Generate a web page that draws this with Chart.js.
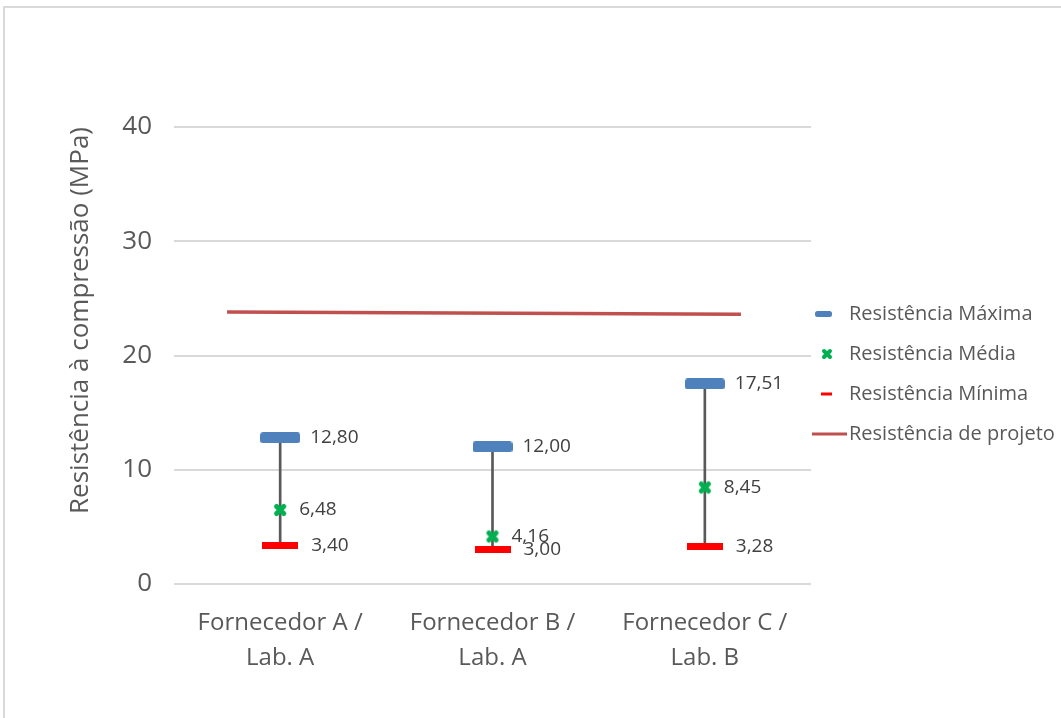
<!DOCTYPE html>
<html>
<head>
<meta charset="utf-8">
<script src="https://cdn.jsdelivr.net/npm/chart.js@4.4.1/dist/chart.umd.min.js"></script>
<style>
  html, body { margin: 0; padding: 0; background: #fff; }
  #wrap { position: relative; width: 1061px; height: 718px; overflow: hidden; }
  #frame { position: absolute; left: 3px; top: 6px; right: -10px; bottom: -10px;
           border-top: 2px solid #d9d9d9; border-left: 2px solid #d9d9d9; }
  canvas { position: absolute; left: 0; top: 0; }
</style>
</head>
<body>
<div id="wrap">
  <div id="frame"></div>
  <canvas id="chart" width="1061" height="718"></canvas>
</div>
<script>
// Categories (supplier / laboratory) and compressive strength results in MPa
const categories = [['Fornecedor A /', 'Lab. A'], ['Fornecedor B /', 'Lab. A'], ['Fornecedor C /', 'Lab. B']];
const maxValues  = [12.80, 12.00, 17.51];
const meanValues = [6.48, 4.16, 8.45];
const minValues  = [3.40, 3.00, 3.28];
// Design strength line (x in category units, 0 = first category)
const designX = [-0.25, 2.17];
const designY = [23.8, 23.6];
const yMin = 0, yMax = 40, yStep = 10;
const seriesNames = ['Resistência Máxima', 'Resistência Média', 'Resistência Mínima', 'Resistência de projeto'];

const FONT = '"Open Sans", "Noto Sans", sans-serif';
const C_MAX = '#4F81BD', C_MEAN = '#00B050', C_MIN = '#FF0000', C_DESIGN = '#C0504D';

function makeIcon(w, h, draw) {
  const c = document.createElement('canvas');
  c.width = w; c.height = h;
  draw(c.getContext('2d'), w, h);
  return c;
}
function roundRect(ctx, x, y, w, h, r) {
  ctx.beginPath();
  ctx.moveTo(x + r, y);
  ctx.arcTo(x + w, y, x + w, y + h, r);
  ctx.arcTo(x + w, y + h, x, y + h, r);
  ctx.arcTo(x, y + h, x, y, r);
  ctx.arcTo(x, y, x + w, y, r);
  ctx.closePath();
}
function drawCross(ctx, cx, cy, s, lw) {
  ctx.strokeStyle = C_MEAN; ctx.lineWidth = lw; ctx.lineCap = 'round';
  ctx.beginPath();
  ctx.moveTo(cx - s, cy - s); ctx.lineTo(cx + s, cy + s);
  ctx.moveTo(cx + s, cy - s); ctx.lineTo(cx - s, cy + s);
  ctx.stroke();
}

// Plot markers
const maxMarker = makeIcon(40, 11, (ctx, w, h) => { ctx.fillStyle = C_MAX; roundRect(ctx, 0, 0, w, h, 3); ctx.fill(); });
const minMarker = makeIcon(36, 7, (ctx, w, h) => { ctx.fillStyle = C_MIN; ctx.fillRect(0, 0, w, h); });
const meanMarker = makeIcon(16, 16, (ctx) => drawCross(ctx, 8, 8, 3.6, 5));

// Legend icons (36 x 16 each)
const legendIcons = [
  makeIcon(36, 16, (ctx) => { ctx.fillStyle = C_MAX; roundRect(ctx, 3, 5, 17, 6, 2.5); ctx.fill(); }),
  makeIcon(36, 16, (ctx) => drawCross(ctx, 15, 8, 3, 4)),
  makeIcon(36, 16, (ctx) => { ctx.fillStyle = C_MIN; ctx.fillRect(9, 6.5, 11, 3); }),
  makeIcon(36, 16, (ctx) => { ctx.fillStyle = C_DESIGN; ctx.fillRect(0, 6.5, 35, 3); })
];

const fmt = v => v.toFixed(2).replace('.', ',');
const atCategory = values => values.map((v, i) => ({ x: i, y: v }));

// Value labels to the right of each marker
const valueLabels = {
  id: 'valueLabels',
  afterDatasetsDraw(chart) {
    const ctx = chart.ctx;
    ctx.save();
    ctx.font = '19px ' + FONT;
    ctx.fillStyle = '#404040';
    ctx.textAlign = 'left';
    ctx.textBaseline = 'middle';
    chart.data.datasets.forEach((ds, di) => {
      if (ds.labelGap === undefined) return;
      const meta = chart.getDatasetMeta(di);
      meta.data.forEach((pt, i) => {
        ctx.fillText(fmt(ds.data[i].y), pt.x + ds.labelGap, pt.y);
      });
    });
    ctx.restore();
  }
};

// Legend at the right of the plot
const sideLegend = {
  id: 'sideLegend',
  afterDraw(chart, args, opts) {
    const ctx = chart.ctx;
    ctx.save();
    ctx.font = '20px ' + FONT;
    ctx.fillStyle = '#595959';
    ctx.textAlign = 'left';
    ctx.textBaseline = 'middle';
    seriesNames.forEach((name, i) => {
      const y = opts.top + i * opts.step;
      ctx.drawImage(legendIcons[i], opts.iconX, y - 8);
      ctx.fillText(name, opts.textX, y);
    });
    ctx.restore();
  }
};

new Chart(document.getElementById('chart'), {
  type: 'bar',
  data: {
    datasets: [
      {
        type: 'bar',
        label: 'range',
        data: minValues.map((v, i) => ({ x: i, y: [v, maxValues[i]] })),
        backgroundColor: '#595959',
        barThickness: 2,
        order: 10
      },
      {
        type: 'line',
        label: seriesNames[0],
        data: atCategory(maxValues),
        showLine: false,
        pointStyle: maxMarker,
        pointRadius: 6, pointHoverRadius: 6,
        labelGap: 30,
        order: 3
      },
      {
        type: 'line',
        label: seriesNames[2],
        data: atCategory(minValues),
        showLine: false,
        pointStyle: minMarker,
        pointRadius: 6, pointHoverRadius: 6,
        labelGap: 31,
        order: 2
      },
      {
        type: 'line',
        label: seriesNames[1],
        data: atCategory(meanValues),
        showLine: false,
        pointStyle: meanMarker,
        pointRadius: 6, pointHoverRadius: 6,
        labelGap: 19,
        order: 1
      },
      {
        type: 'line',
        label: seriesNames[3],
        data: designX.map((x, i) => ({ x, y: designY[i] })),
        borderColor: C_DESIGN,
        borderWidth: 3.5,
        pointRadius: 0,
        order: 5
      }
    ]
  },
  options: {
    responsive: false,
    animation: false,
    events: [],
    devicePixelRatio: 1,
    layout: { padding: { top: 127, right: 250, bottom: 0, left: 0 } },
    plugins: {
      legend: { display: false },
      tooltip: { enabled: false },
      sideLegend: { top: 314, step: 40, iconX: 812, textX: 849 }
    },
    scales: {
      x: {
        type: 'linear',
        offset: false,
        min: -0.5,
        max: categories.length - 0.5,
        grid: { display: false, offset: false },
        border: { display: false },
        afterBuildTicks(s) { s.ticks = categories.map((_, i) => ({ value: i })); },
        ticks: {
          callback: v => categories[v],
          font: { family: FONT, size: 24, lineHeight: 1.45 },
          color: '#595959',
          padding: 14,
          maxRotation: 0,
          autoSkip: false
        },
        afterFit(s) { s.height = 134; }
      },
      y: {
        min: yMin,
        max: yMax,
        ticks: {
          stepSize: yStep,
          font: { family: FONT, size: 26 },
          color: '#595959',
          padding: 22
        },
        grid: { color: '#d9d9d9', lineWidth: 2, drawTicks: false },
        border: { display: false },
        title: {
          display: true,
          text: 'Resistência à compressão (MPa)',
          font: { family: FONT, size: 26 },
          color: '#595959',
          align: 'end',
          padding: { top: 65, bottom: 0 }
        },
        afterFit(s) { s.width = 174; }
      }
    }
  },
  plugins: [valueLabels, sideLegend]
});
</script>
</body>
</html>
